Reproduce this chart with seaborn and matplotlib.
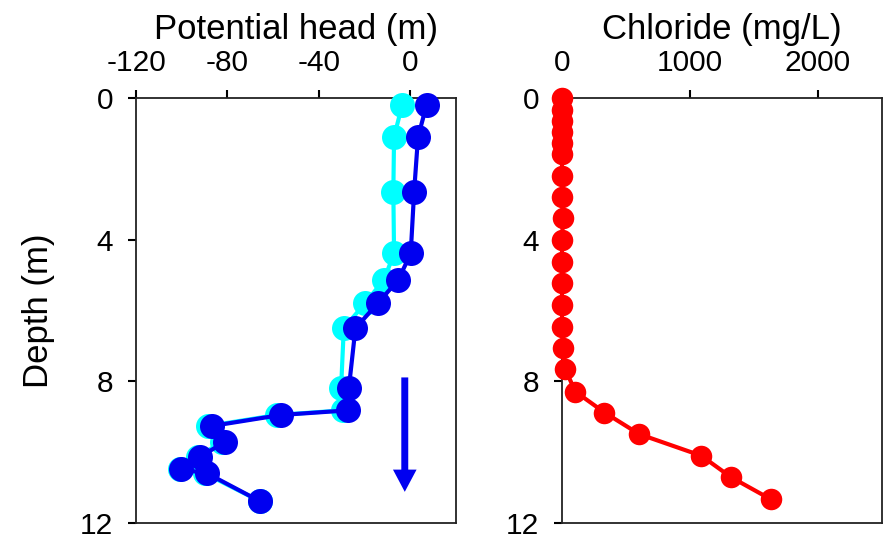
import matplotlib
matplotlib.use("Agg")
import matplotlib.pyplot as plt
import seaborn as sns
import pandas as pd

# ---- data ----
depth_head = [0.19, 1.10, 2.64, 4.39, 5.13, 5.78, 6.50, 8.20, 8.82, 8.95,
              9.26, 9.71, 10.13, 10.48, 10.60, 11.39]
head_cyan = [-3.4, -7.0, -7.3, -7.0, -11.4, -19.5, -29.0, -30.2, -29.4, -58.3,
             -88.4, -82.5, -92.7, -100.8, -89.8, -65.6]
head_blue = [7.3, 3.5, 1.8, 0.3, -5.1, -13.9, -23.9, -26.8, -27.3, -56.6,
             -86.7, -81.0, -92.0, -100.4, -88.8, -65.6]

depth_cl = [0.0, 0.33, 0.66, 0.97, 1.27, 1.57, 2.19, 2.79, 3.40, 4.01, 4.62,
            5.23, 5.85, 6.46, 7.07, 7.66, 8.29, 8.88, 9.49, 10.10, 10.71, 11.33]
chloride = [0, 0, 0, 0, 0, 0, 0, 0, 8, 0, 0, 0, 0, 0, 8, 26, 104, 332, 603,
            1088, 1322, 1631]

head_ticks = [-120, -80, -40, 0]
cl_ticks = [0, 1000, 2000]
depth_ticks = [0, 4, 8, 12]

sns.set_style("ticks")
plt.rcParams['font.family'] = ['Liberation Sans', 'DejaVu Sans']
plt.rcParams['axes.unicode_minus'] = False
plt.rcParams['text.color'] = 'black'
plt.rcParams['axes.labelcolor'] = 'black'
plt.rcParams['xtick.color'] = 'black'
plt.rcParams['ytick.color'] = 'black'

fig = plt.figure(figsize=(8.85, 5.4), dpi=100)
ax1 = fig.add_axes([136/885, 1-523/540, 319.7/885, 425/540])
ax2 = fig.add_axes([562/885, 1-523/540, 320/885, 425/540])

df_c = pd.DataFrame({"head": head_cyan, "depth": depth_head})
df_b = pd.DataFrame({"head": head_blue, "depth": depth_head})
df_cl = pd.DataFrame({"cl": chloride, "depth": depth_cl})

CYAN = "#00FFFF"
BLUE = "#0000F0"
RED = "#FF0000"

for df, col in [(df_c, CYAN), (df_b, BLUE)]:
    sns.lineplot(data=df, x="head", y="depth", sort=False, estimator=None,
                 ax=ax1, color=col, lw=3, marker="o", markersize=18,
                 markeredgewidth=0, clip_on=False, zorder=5)

sns.lineplot(data=df_cl, x="cl", y="depth", sort=False, estimator=None,
             ax=ax2, color=RED, lw=3, marker="o", markersize=15.5,
             markeredgewidth=0, clip_on=False, zorder=5)

ax1.annotate("", xy=(-2.3, 11.12), xytext=(-2.3, 7.89),
             arrowprops=dict(arrowstyle="simple,head_length=16,head_width=17,tail_width=5",
                             mutation_scale=1, color=BLUE, lw=0,
                             shrinkA=0, shrinkB=0))

for ax, xlim, xt, lab in [(ax1, (-120, 20), head_ticks, "Potential head (m)"),
                          (ax2, (0, 2500), cl_ticks, "Chloride (mg/L)")]:
    ax.set_xlim(*xlim)
    ax.set_ylim(12, 0)
    ax.set_xticks(xt)
    ax.set_yticks(depth_ticks)
    ax.xaxis.tick_top()
    ax.xaxis.set_label_position("top")
    ax.set_xlabel(lab, fontsize=25, labelpad=7)
    ax.set_ylabel("")
    ax.tick_params(axis="both", labelsize=21.5, length=6, width=1.5,
                   direction="out", pad=10.5, color="black")
    ax.tick_params(axis="x", pad=9)
    for s in ax.spines.values():
        s.set_visible(True)
        s.set_linewidth(1.3)
        s.set_color("#222222")

ax1.set_ylabel("Depth (m)", fontsize=25, labelpad=18)

fig.savefig("out.png", dpi=100)
